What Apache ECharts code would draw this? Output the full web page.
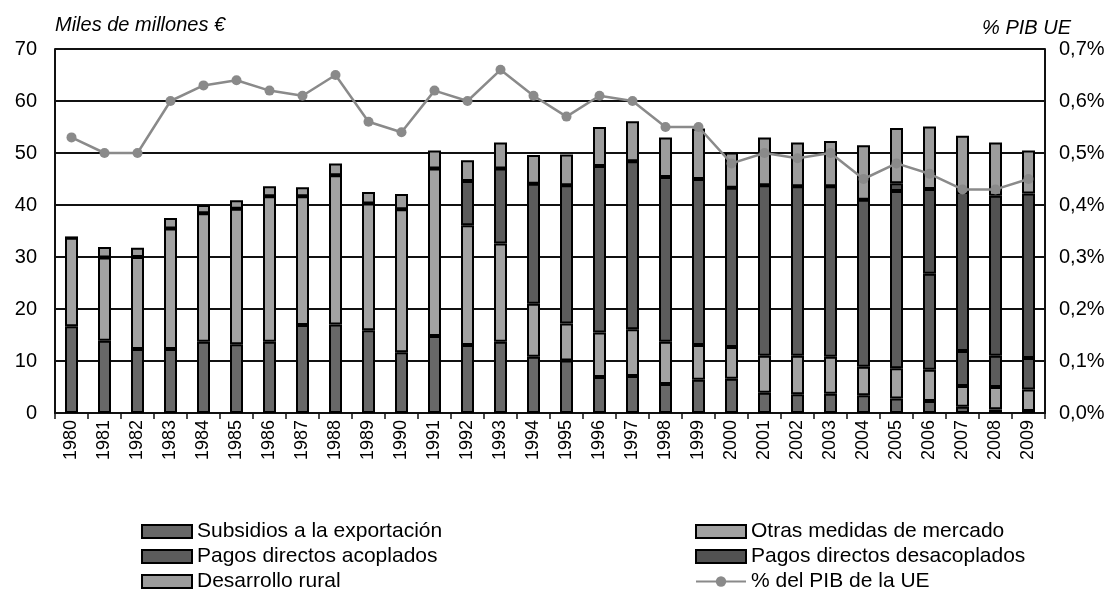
<!DOCTYPE html>
<html>
<head>
<meta charset="utf-8">
<script src="https://cdn.jsdelivr.net/npm/echarts@6/dist/echarts.min.js"></script>
<style>
html,body{margin:0;padding:0;background:#fff;}
#chart{width:1116px;height:592px;}
</style>
</head>
<body>
<div id="chart"></div>
<script>
const years = ['1980','1981','1982','1983','1984','1985','1986','1987','1988','1989','1990','1991','1992','1993','1994','1995','1996','1997','1998','1999','2000','2001','2002','2003','2004','2005','2006','2007','2008','2009'];
const subsidios = [16.7,13.9,12.3,12.3,13.7,13.2,13.7,16.9,17.0,15.9,11.7,14.8,13.1,13.7,10.8,10.1,6.9,7.1,5.6,6.4,6.6,3.9,3.6,3.7,3.4,2.8,2.3,1.2,0.7,0.4];
const otrasMedidas = [17.0,16.0,17.7,23.2,24.7,26.1,28.0,24.8,28.7,24.4,27.5,32.2,23.0,18.9,10.2,7.1,8.6,9.0,8.1,6.7,6.1,7.1,7.4,7.1,5.5,5.8,6.0,4.0,4.3,4.1];
const acoplados = [0,0,0,0,0,0,0,0,0,0,0,0,8.5,14.4,23.1,26.6,32.0,32.3,31.7,31.9,30.6,32.8,32.6,32.8,32.1,34.1,18.5,6.7,6.0,6.1];
const desacoplados = [0,0,0,0,0,0,0,0,0,0,0,0,0,0,0,0,0,0,0,0,0,0,0,0,0,1.5,16.3,30.6,30.8,31.6];
const rural = [0,2.0,1.8,2.0,1.6,1.6,1.9,1.7,2.3,2.2,2.9,3.5,4.0,5.0,5.5,5.9,7.5,7.7,7.6,9.7,6.8,9.2,8.4,8.7,10.5,10.6,12.0,10.8,10.2,8.3];
const pibUE = [0.53,0.50,0.50,0.60,0.63,0.64,0.62,0.61,0.65,0.56,0.54,0.62,0.60,0.66,0.61,0.57,0.61,0.60,0.55,0.55,0.48,0.50,0.49,0.50,0.45,0.48,0.46,0.43,0.43,0.45];

const names = ['Subsidios a la exportación','Otras medidas de mercado','Pagos directos acoplados','Pagos directos desacoplados','Desarrollo rural','% del PIB de la UE'];
const FONT = '"Liberation Sans", Arial, sans-serif';

function barSeries(name, data, color){
  return {
    name: name, type: 'bar', stack: 'total', data: data,
    barWidth: 13,
    itemStyle: { color: color, borderColor: '#000', borderWidth: 2 },
    emphasis: { disabled: true }
  };
}

const legendCommon = {
  orient: 'vertical', top: 516, height: 100,
  itemWidth: 50, itemHeight: 13, itemGap: 4,
  textStyle: { fontSize: 21, color: '#000', fontFamily: FONT }
};

const chart = echarts.init(document.getElementById('chart'));
chart.setOption({
  animation: false,
  backgroundColor: '#fff',
  textStyle: { fontFamily: FONT, color: '#000' },
  grid: { left: 55, right: 71, top: 49, bottom: 179, containLabel: false },
  legend: [
    Object.assign({}, legendCommon, {
      left: 136,
      data: [{ name: names[0], icon: 'rect' }, { name: names[2], icon: 'rect' }, { name: names[4], icon: 'rect' }]
    }),
    Object.assign({}, legendCommon, {
      left: 690,
      data: [{ name: names[1], icon: 'rect' }, { name: names[3], icon: 'rect' }, { name: names[5] }]
    })
  ],
  xAxis: {
    type: 'category', data: years,
    axisLine: { lineStyle: { color: '#111', width: 2 } },
    axisTick: { show: true, alignWithLabel: false, length: 6, lineStyle: { color: '#111', width: 1.5 } },
    axisLabel: { rotate: 90, fontSize: 18, color: '#000', margin: 7, fontFamily: FONT }
  },
  yAxis: [
    {
      type: 'value', min: 0, max: 70, interval: 10,
      name: 'Miles de millones €',
      nameLocation: 'end', nameGap: 14,
      nameTextStyle: { fontStyle: 'italic', fontSize: 20, color: '#000', align: 'left', fontFamily: FONT },
      axisLine: { show: true, lineStyle: { color: '#111', width: 2 } },
      axisTick: { show: false },
      axisLabel: { fontSize: 20, color: '#000', margin: 18, fontFamily: FONT },
      splitLine: { show: true, lineStyle: { color: '#111', width: 2 } }
    },
    {
      type: 'value', min: 0, max: 0.7, interval: 0.1,
      name: '% PIB UE',
      nameLocation: 'end', nameGap: 11,
      nameTextStyle: { fontStyle: 'italic', fontSize: 20, color: '#000', align: 'right', padding: [0, -26, 0, 0], fontFamily: FONT },
      axisLine: { show: true, lineStyle: { color: '#111', width: 2 } },
      axisTick: { show: false },
      axisLabel: { fontSize: 20, color: '#000', margin: 14, fontFamily: FONT,
        formatter: function(v){ return v.toFixed(1).replace('.', ',') + '%'; } },
      splitLine: { show: false }
    }
  ],
  series: [
    barSeries(names[0], subsidios, '#686868'),
    barSeries(names[1], otrasMedidas, '#a2a2a2'),
    barSeries(names[2], acoplados, '#5c5c5c'),
    barSeries(names[3], desacoplados, '#525252'),
    barSeries(names[4], rural, '#9c9c9c'),
    {
      name: names[5], type: 'line', yAxisIndex: 1, data: pibUE,
      symbol: 'circle', symbolSize: 10,
      lineStyle: { color: '#8a8a8a', width: 2.5 },
      itemStyle: { color: '#8a8a8a' },
      z: 5,
      emphasis: { disabled: true }
    }
  ]
});
</script>
</body>
</html>
